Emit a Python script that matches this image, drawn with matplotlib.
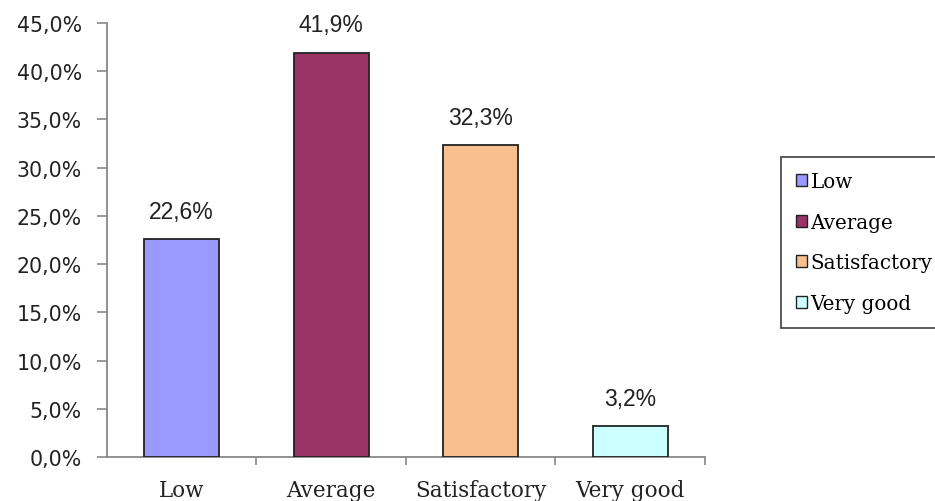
import numpy as np
import matplotlib
matplotlib.use('Agg')
import matplotlib.pyplot as plt
from matplotlib.patches import Patch

## data
categories = ['Low', 'Average', 'Satisfactory', 'Very good']
shares = [22.6, 41.9, 32.3, 3.2]  # percent of respondents
colors = ['#9999ff', '#993366', '#f9bf8f', '#ccffff']

yticks = np.arange(0, 45.1, 5)

## figure
fig = plt.figure(figsize=(9.35, 5.02), dpi=100)
ax = fig.add_axes([0.1144, 0.0876, 0.6396, 0.8646])

x = np.arange(len(categories))
bars = ax.bar(x, shares, width=0.5, color=colors, edgecolor='#222222', linewidth=1.3, zorder=3)

# value labels above the bars
for xi, v in zip(x, shares):
    ax.text(xi, v + 1.7, f'{v:.1f}%'.replace('.', ','), ha='center', va='bottom',
            fontsize=16.5, family='Liberation Sans', color='#222222')

# axes styling
ax.set_xlim(-0.5, 3.5)
ax.set_ylim(0, 45)
ax.set_yticks(yticks)
ax.set_yticklabels([f'{t:.1f}%'.replace('.', ',') for t in yticks], fontsize=14.8, color='#222222')
ax.set_xticks(x)
ax.set_xticklabels(categories, family='DejaVu Serif', fontsize=15.5, color='#222222')
ax.tick_params(axis='x', which='major', length=0, pad=16)
ax.set_xticks(np.arange(0.5, 4, 1), minor=True)
ax.tick_params(axis='x', which='minor', length=6, color='#888888', width=1.2)
ax.tick_params(axis='y', length=7, color='#888888', width=1.2, pad=11)
for s in ['top', 'right']:
    ax.spines[s].set_visible(False)
for s in ['left', 'bottom']:
    ax.spines[s].set_color('#888888')
    ax.spines[s].set_linewidth(1.3)

# legend box on the right
handles = [Patch(facecolor=c, edgecolor='#222222', linewidth=1.0) for c in colors]
leg = fig.legend(handles, categories, loc='upper left', bbox_to_anchor=(0.835, 0.685),
                 bbox_transform=fig.transFigure, fancybox=False, frameon=True,
                 prop={'family': 'DejaVu Serif', 'size': 14.3},
                 handlelength=0.55, handleheight=0.55, handletextpad=0.2,
                 labelspacing=1.09, borderpad=0.75, borderaxespad=0)
leg.get_frame().set_edgecolor('#222222')
leg.get_frame().set_linewidth(1.3)

fig.savefig('out.png', dpi=100)
